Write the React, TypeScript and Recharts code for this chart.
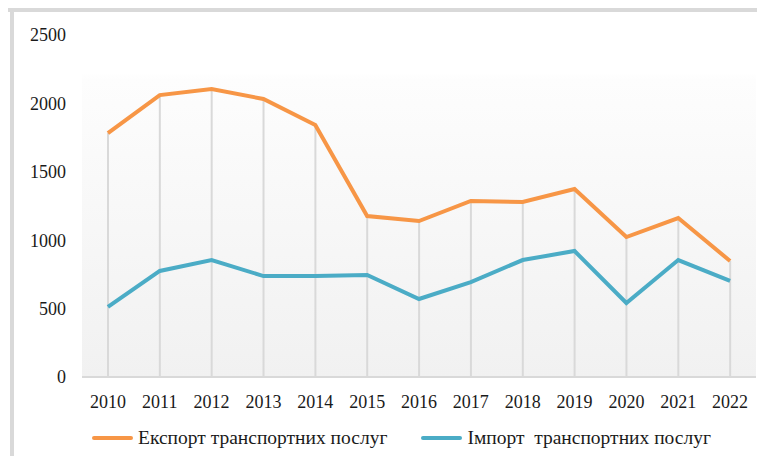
import { Bar, CartesianGrid, ComposedChart, Line, XAxis, YAxis } from "recharts";

const YEARS = ["2010", "2011", "2012", "2013", "2014", "2015", "2016", "2017", "2018", "2019", "2020", "2021", "2022"];
const EXPORT = [1783, 2061, 2105, 2032, 1842, 1177, 1140, 1287, 1279, 1374, 1023, 1162, 848];
const IMPORT = [512, 775, 855, 738, 738, 746, 570, 694, 855, 921, 541, 855, 702];
const Y_TICKS = [0, 500, 1000, 1500, 2000, 2500];
const SERIES = [
  { key: "export", name: "Експорт транспортних послуг", color: "#f79646" },
  { key: "import", name: "Імпорт  транспортних послуг", color: "#4bacc6" },
];

const data = YEARS.map((year, i) => ({ year, export: EXPORT[i], import: IMPORT[i] }));

const FONT = "Liberation Serif, DejaVu Serif, serif";
const tick = { fill: "#1a1a1a", fontSize: 18, fontFamily: FONT };

export default function App() {
  return (
    <div style={{ position: "relative", width: 765, height: 464, margin: -8, background: "#fff", overflow: "hidden" }}>
      {/* frame edges of the cropped figure */}
      <div style={{ position: "absolute", left: 8, top: 8, right: 0, height: 4, background: "#d9d9d9" }} />
      <div style={{ position: "absolute", left: 10, top: 8, bottom: 0, width: 4, background: "#d9d9d9" }} />

      <div style={{ position: "absolute", left: 0, top: 0 }}>
        <ComposedChart width={765} height={464} data={data} margin={{ top: 35, right: 9, bottom: 57, left: 0 }}>
          <defs>
            <linearGradient id="plotBg" x1="0" y1="0" x2="0" y2="1">
              <stop offset="0%" stopColor="#ffffff" />
              <stop offset="11%" stopColor="#ffffff" />
              <stop offset="13%" stopColor="#fdfdfd" />
              <stop offset="100%" stopColor="#f1f1f1" />
            </linearGradient>
          </defs>
          <CartesianGrid horizontal={false} vertical={false} fill="url(#plotBg)" stroke="none" />
          <XAxis
            dataKey="year"
            height={30}
            tick={tick}
            tickLine={false}
            tickMargin={12}
            axisLine={{ stroke: "#d9d9d9", strokeWidth: 2 }}
          />
          <YAxis
            width={82}
            domain={[0, 2500]}
            ticks={Y_TICKS}
            tick={tick}
            tickLine={false}
            axisLine={false}
            tickMargin={10}
          />
          <Bar dataKey="export" barSize={2} fill="#d9d9d9" isAnimationActive={false} legendType="none" />
          {SERIES.map((s) => (
            <Line
              key={s.key}
              dataKey={s.key}
              name={s.name}
              stroke={s.color}
              strokeWidth={4}
              dot={false}
              activeDot={false}
              isAnimationActive={false}
            />
          ))}
        </ComposedChart>
      </div>

      <div
        style={{
          position: "absolute",
          top: 427,
          left: 92,
          display: "flex",
          alignItems: "center",
          fontFamily: FONT,
          fontSize: 19.5,
          color: "#1a1a1a",
          whiteSpace: "pre",
        }}
      >
        {SERIES.map((s, i) => (
          <div key={s.key} style={{ display: "flex", alignItems: "center", marginLeft: i === 0 ? 0 : 34 }}>
            <div style={{ width: 41, height: 4, background: s.color, borderRadius: 2, marginRight: 5 }} />
            <span>{s.name}</span>
          </div>
        ))}
      </div>
    </div>
  );
}
